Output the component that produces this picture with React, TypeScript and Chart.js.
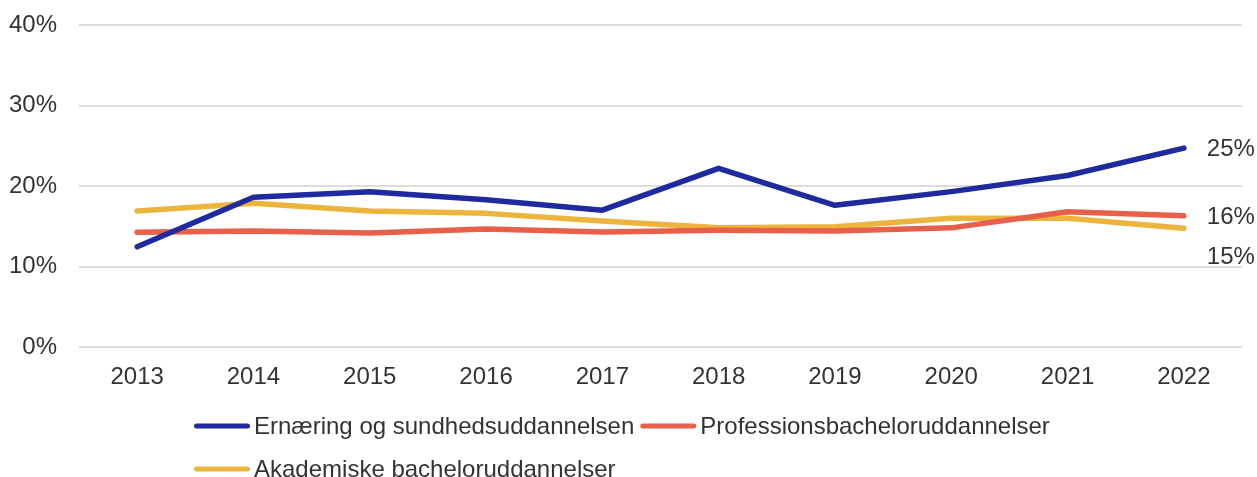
import React, { useEffect, useRef } from "react";
import { Chart, registerables } from "chart.js";

Chart.register(...registerables);

const years = ["2013", "2014", "2015", "2016", "2017", "2018", "2019", "2020", "2021", "2022"];
const seriesNames = [
  "Ernæring og sundhedsuddannelsen",
  "Professionsbacheloruddannelser",
  "Akademiske bacheloruddannelser",
];
const ernaering = [12.45, 18.6, 19.3, 18.3, 17.0, 22.2, 17.6, 19.3, 21.3, 24.7];
const professions = [14.25, 14.4, 14.15, 14.65, 14.3, 14.5, 14.4, 14.8, 16.8, 16.3];
const akademiske = [16.9, 17.85, 16.9, 16.6, 15.65, 14.8, 14.95, 16.0, 16.0, 14.75];
const yTicks = [0, 10, 20, 30, 40];

const COLORS = ["#1F2A9E", "#E8604A", "#EBB53D"];
const LABEL_DY = [1.5, 2, 29];
const FONT_FAMILY = '"Liberation Sans", Arial, Helvetica, sans-serif';
const FONT_SIZE = 24;
const TEXT_COLOR = "#333333";

const endLabelPlugin = {
  id: "endLabels",
  afterDatasetsDraw(chart: any) {
    const ctx = chart.ctx;
    ctx.save();
    ctx.font = `${FONT_SIZE}px ${FONT_FAMILY}`;
    ctx.fillStyle = TEXT_COLOR;
    ctx.textAlign = "left";
    ctx.textBaseline = "middle";
    chart.data.datasets.forEach((ds: any, i: number) => {
      const meta = chart.getDatasetMeta(i);
      const last = meta.data[meta.data.length - 1];
      const v = ds.data[ds.data.length - 1];
      ctx.fillText(`${Math.round(v)}%`, last.x + 23, last.y + LABEL_DY[i]);
    });
    ctx.restore();
  },
};

const legendPlugin = {
  id: "customLegend",
  afterDraw(chart: any) {
    const ctx = chart.ctx;
    ctx.save();
    ctx.font = `${FONT_SIZE}px ${FONT_FAMILY}`;
    ctx.textBaseline = "middle";
    ctx.textAlign = "left";
    const startX = 194;
    const maxX = 1070;
    const markerLen = 56;
    let x = startX;
    let y = 426;
    chart.data.datasets.forEach((ds: any, i: number) => {
      const tw = ctx.measureText(ds.label).width;
      const w = markerLen + 4 + tw;
      if (x + w > maxX && x > startX) {
        x = startX;
        y += 43;
      }
      ctx.strokeStyle = ds.borderColor;
      ctx.lineWidth = 5;
      ctx.lineCap = "round";
      ctx.beginPath();
      ctx.moveTo(x + 2.5, y);
      ctx.lineTo(x + markerLen - 2.5, y);
      ctx.stroke();
      ctx.fillStyle = TEXT_COLOR;
      ctx.fillText(ds.label, x + markerLen + 4, y + 1);
      x += w + 6;
    });
    ctx.restore();
  },
};

export default function App() {
  const ref = useRef<HTMLCanvasElement | null>(null);
  useEffect(() => {
    if (!ref.current) return;
    const seriesData = [ernaering, professions, akademiske];
    const chart = new Chart(ref.current, {
      type: "line",
      data: {
        labels: years,
        datasets: seriesData.map((d, i) => ({
          label: seriesNames[i],
          data: d,
          borderColor: COLORS[i],
          backgroundColor: COLORS[i],
          borderWidth: 5.5,
          borderCapStyle: "round",
          borderJoinStyle: "round",
          pointRadius: 0,
          pointHoverRadius: 0,
          tension: 0,
          fill: false,
        })),
      },
      options: {
        responsive: false,
        animation: false,
        events: [],
        layout: { padding: { top: 25, right: 15, bottom: 80, left: 0 } },
        plugins: {
          legend: { display: false },
          tooltip: { enabled: false },
        },
        scales: {
          x: {
            offset: true,
            grid: { display: false, drawTicks: false },
            border: { display: false },
            ticks: {
              color: TEXT_COLOR,
              font: { family: FONT_FAMILY, size: FONT_SIZE },
              padding: 16,
              maxRotation: 0,
            },
            afterFit(scale: any) {
              scale.height = 50;
            },
          },
          y: {
            min: 0,
            max: 40,
            afterBuildTicks(scale: any) {
              scale.ticks = yTicks.map((v) => ({ value: v }));
            },
            grid: { color: "#DDDDDD", lineWidth: 2, drawTicks: false },
            border: { display: false },
            ticks: {
              color: TEXT_COLOR,
              font: { family: FONT_FAMILY, size: FONT_SIZE },
              padding: 22,
              callback: (v: any) => `${v}%`,
            },
            afterFit(scale: any) {
              scale.width = 79;
              scale.paddingTop = 0;
              scale.paddingBottom = 0;
            },
          },
        },
      },
      plugins: [endLabelPlugin, legendPlugin],
    } as any);
    return () => chart.destroy();
  }, []);
  return (
    <div style={{ position: "absolute", left: 0, top: 0, width: 1257, height: 477, background: "#fff" }}>
      <canvas ref={ref} width={1257} height={477} style={{ display: "block" }} />
    </div>
  );
}
